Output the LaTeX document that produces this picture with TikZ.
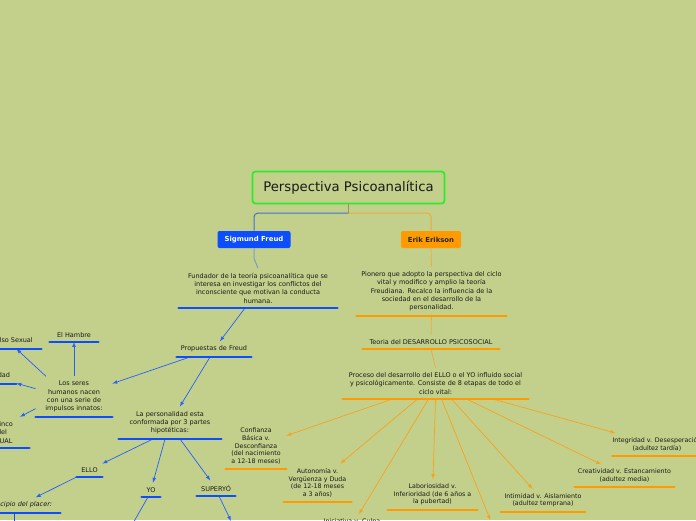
\documentclass[tikz,border=0pt]{standalone}
\usepackage{fontspec}
\setmainfont{DejaVu Sans}
\usepackage{tikz}
\usetikzlibrary{shapes,positioning,arrows,backgrounds,fit}

\definecolor{bgolive}{HTML}{C3D08B}
\definecolor{titlegreen}{HTML}{2BEE2B}
\definecolor{freudblue}{HTML}{0C4EFF}
\definecolor{eriksonorange}{HTML}{FF9B00}
\definecolor{stembrown}{HTML}{A88E5C}
\definecolor{branchblue}{HTML}{3F72D2}
\definecolor{branchorange}{HTML}{EDAA3C}
\definecolor{linkgray}{HTML}{7E9CC0}
\definecolor{arroworange}{HTML}{F7A21E}

\begin{document}
\begin{tikzpicture}[x=1pt,y=-1pt,thick]
        %
        % `topic' is the text of a node, its bar is drawn under it later.
        % `stage' is used for Erikson's eight stages.
        % `fbar' and `ebar' are the thick bars under each text.
        \tikzstyle{rootbox} = [draw=titlegreen,line width=1.8pt,fill=bgolive,rounded corners=3pt,minimum width=192pt,minimum height=32pt,font=\fontsize{13.2}{15}\selectfont,text=black!90]
        \tikzstyle{mainbox} = [rounded corners=2pt,minimum height=17pt,inner xsep=0pt,font=\fontsize{6.9}{8}\selectfont\bfseries]
        \tikzstyle{topic} = [anchor=south,align=center,inner xsep=0pt,inner ysep=4.3pt,font=\fontsize{6.5}{8.4}\selectfont,text=black!90]
        \tikzstyle{stage} = [topic,font=\fontsize{6.3}{7.7}\selectfont]
        \tikzstyle{fbar} = [freudblue,line width=2.6pt,line cap=round]
        \tikzstyle{ebar} = [eriksonorange,line width=2.6pt,line cap=round]
        \tikzstyle{farrow} = [freudblue!90,line width=0.7pt,-latex]
        \tikzstyle{earrow} = [arroworange,line width=0.7pt,-latex]
        \tikzstyle{elink} = [branchorange,line width=0.7pt]
        %
        \useasboundingbox (0,0) rectangle (696,520);
        \fill[bgolive] (0,0) rectangle (696,520);
        %
        % Root and the two authors
        \node[rootbox] (root) at (348.5,187.5) {Perspectiva Psicoanalítica};
        \node[mainbox,fill=freudblue,text=white,minimum width=73pt] (freud) at (254,239.5) {Sigmund Freud};
        \node[mainbox,fill=eriksonorange,text=black!85,minimum width=60pt] (erikson) at (431,239.5) {Erik Erikson};
        \coordinate (fork) at (348.5,213);
        \draw[stembrown,line width=1pt] (root.south) -- (fork);
        \draw[branchblue,line width=1pt,rounded corners=4pt] (fork) -| (freud.north);
        \draw[branchorange,line width=1pt,rounded corners=4pt] (fork) -| (erikson.north);
        %
        % Freud
        \node[topic,minimum width=158pt] (fund) at (258,308) {Fundador de la teoría psicoanalítica que se\\interesa en investigar los conflictos del\\inconsciente que motivan la conducta\\humana.};
        \node[topic,minimum width=74pt] (prop) at (214,357) {Propuestas de Freud};
        \node[topic,minimum width=102pt] (pers) at (170,439) {La personalidad esta\\conformada por 3 partes\\hipotéticas:};
        \node[topic,minimum width=76pt] (seres) at (74,417) {Los seres\\humanos nacen\\con una serie de\\impulsos innatos:};
        \node[topic,minimum width=48pt] (hambre) at (74,342) {El Hambre};
        \node[topic,minimum width=66pt] (sexual) at (8,349) {Impulso Sexual};
        \node[topic,minimum width=50pt] (agres) at (-9,384) {Agresividad};
        \node[topic,minimum width=78pt] (etapas) at (-10,448) {Propone cinco\\etapas del\\PSICOSEXUAL};
        \node[topic,minimum width=25pt] (ello) at (89.5,477) {ELLO};
        \node[topic,minimum width=18pt] (yo) at (151,497) {YO};
        \node[topic,minimum width=38pt] (super) at (216,496) {SUPERYÓ};
        \node[topic,minimum width=80pt,font=\fontsize{6.5}{8.4}\selectfont\itshape] (placer) at (20,513) {Principio del placer:};
        \coordinate (yoout) at (128,532);
        \coordinate (superout) at (231,521);
        \coordinate (placerout) at (14,530);
        %
        \draw[linkgray,line width=1pt] (freud.south) -- ++(0,10) -- (fund.north);
        \draw[farrow] ([xshift=-13pt]fund.south) -- (prop);
        \draw[farrow] ([xshift=-4pt]prop.south) -- (pers);
        \draw[farrow] ([xshift=-24pt]prop.south) -- (seres);
        \draw[farrow] (seres.north) -- (hambre);
        \draw[farrow] ([xshift=-28pt]seres.north) -- (sexual);
        \draw[farrow] ([yshift=8pt]seres.west) -- (agres);
        \draw[farrow] ([yshift=-12pt]seres.west) -- (etapas);
        \draw[farrow] ([xshift=-17pt]pers.south) -- (ello);
        \draw[farrow] ([xshift=-5pt]pers.south) -- (yo);
        \draw[farrow] ([xshift=10pt]pers.south) -- (super);
        \draw[farrow] (ello.south west) -- (placer);
        \draw[farrow] ([xshift=-3pt]yo.south) -- (yoout);
        \draw[farrow] ([xshift=3pt]super.south) -- (superout);
        \draw[freudblue,line width=1pt] (placer.south -| placerout) -- (placerout);
        \foreach \n in {fund,prop,pers,seres,hambre,sexual,agres,etapas,ello,yo,super,placer}
            \draw[fbar] (\n.south west) -- (\n.south east);
        %
        % Erikson
        \node[topic,minimum width=149pt] (pion) at (431.5,316) {Pionero que adopto la perspectiva del ciclo\\vital y modifico y amplio la teoría\\Freudiana. Recalco la influencia de la\\sociedad en el desarrollo de la\\personalidad.};
        \node[topic,minimum width=136pt] (teoria) at (431,349) {Teoria del DESARROLLO PSICOSOCIAL};
        \node[topic,minimum width=185pt] (proc) at (435.5,399) {Proceso del desarrollo del ELLO o el YO influido social\\y psicológicamente. Consiste de 8 etapas de todo el\\ciclo vital:};
        \node[stage,minimum width=60pt] (conf) at (256,469) {Confianza\\Básica v.\\Desconfianza\\(del nacimiento\\a 12-18 meses)};
        \node[stage,minimum width=67pt] (auto) at (317.5,502) {Autonomía v.\\Vergüenza y Duda\\(de 12-18 meses\\a 3 años)};
        \node[stage,minimum width=72pt] (inic) at (352,537) {Iniciativa v. Culpa\\(de 3 a 6 años)};
        \node[stage,minimum width=89pt] (labo) at (432.5,510) {Laboriosidad v.\\Inferioridad (de 6 años a\\la pubertad)};
        \node[stage,minimum width=110pt] (iden) at (495,543) {Identidad v. Confusión de Rol\\(adolescencia)};
        \node[stage,minimum width=84pt] (inti) at (543,512) {Intimidad v. Aislamiento\\(adultez temprana)};
        \node[stage,minimum width=99pt] (crea) at (624.5,487) {Creatividad v. Estancamiento\\(adultez media)};
        \node[stage,minimum width=88pt] (inte) at (657,456) {Integridad v. Desesperación\\(adultez tardía)};
        %
        \draw[elink] (erikson.south) -- (pion.north);
        \draw[elink] (pion.south) -- (teoria.north);
        \draw[elink] (teoria.south) -- (proc.north);
        \foreach \dx/\n in {-43/conf,-18/auto,-7/inic,0/labo,6/iden,16/inti,31/crea,57/inte}
            \draw[earrow] ([xshift=\dx pt]proc.south) -- (\n);
        \foreach \n in {pion,teoria,proc,conf,auto,inic,labo,iden,inti,crea,inte}
            \draw[ebar] (\n.south west) -- (\n.south east);
        %
    \end{tikzpicture}
\end{document}
